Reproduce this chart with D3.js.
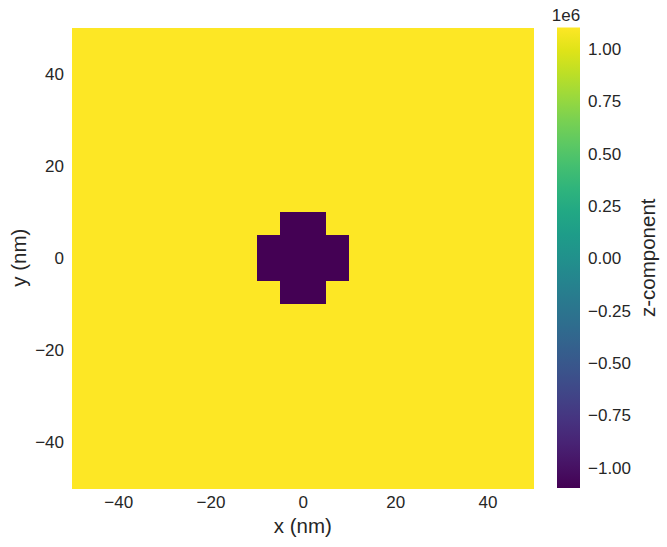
<!DOCTYPE html>
<html><head><meta charset="utf-8">
<script src="https://cdn.jsdelivr.net/npm/d3@7"></script>
<style>body{margin:0;background:#fff}svg{display:block}text{font-family:"Liberation Sans",Arial,sans-serif;fill:#262626}</style>
</head><body><svg id="c" width="667" height="547"></svg>
<script>
// Data
const Ms = 1.1e6;
const xEdges = [-50, 50];
const yEdges = [-50, 50];
const cellSize = 5;
// rows from top (y=50) to bottom (y=-50), 20x20 cells, sign of mz
const mzRows = [
 [1,1,1,1,1,1,1,1,1,1,1,1,1,1,1,1,1,1,1,1],
 [1,1,1,1,1,1,1,1,1,1,1,1,1,1,1,1,1,1,1,1],
 [1,1,1,1,1,1,1,1,1,1,1,1,1,1,1,1,1,1,1,1],
 [1,1,1,1,1,1,1,1,1,1,1,1,1,1,1,1,1,1,1,1],
 [1,1,1,1,1,1,1,1,1,1,1,1,1,1,1,1,1,1,1,1],
 [1,1,1,1,1,1,1,1,1,1,1,1,1,1,1,1,1,1,1,1],
 [1,1,1,1,1,1,1,1,1,1,1,1,1,1,1,1,1,1,1,1],
 [1,1,1,1,1,1,1,1,1,1,1,1,1,1,1,1,1,1,1,1],
 [1,1,1,1,1,1,1,1,1,-1,-1,1,1,1,1,1,1,1,1,1],
 [1,1,1,1,1,1,1,1,-1,-1,-1,-1,1,1,1,1,1,1,1,1],
 [1,1,1,1,1,1,1,1,-1,-1,-1,-1,1,1,1,1,1,1,1,1],
 [1,1,1,1,1,1,1,1,1,-1,-1,1,1,1,1,1,1,1,1,1],
 [1,1,1,1,1,1,1,1,1,1,1,1,1,1,1,1,1,1,1,1],
 [1,1,1,1,1,1,1,1,1,1,1,1,1,1,1,1,1,1,1,1],
 [1,1,1,1,1,1,1,1,1,1,1,1,1,1,1,1,1,1,1,1],
 [1,1,1,1,1,1,1,1,1,1,1,1,1,1,1,1,1,1,1,1],
 [1,1,1,1,1,1,1,1,1,1,1,1,1,1,1,1,1,1,1,1],
 [1,1,1,1,1,1,1,1,1,1,1,1,1,1,1,1,1,1,1,1],
 [1,1,1,1,1,1,1,1,1,1,1,1,1,1,1,1,1,1,1,1],
 [1,1,1,1,1,1,1,1,1,1,1,1,1,1,1,1,1,1,1,1]
];
const axisTicks = [-40, -20, 0, 20, 40];
const cbarTicks = [-1.0, -0.75, -0.5, -0.25, 0, 0.25, 0.5, 0.75, 1.0];
const cbarDomain = [-1.1e6, 1.1e6];

const svg = d3.select("#c");
const L = 72, R = 533.7, T = 27.5, B = 488;
const x = d3.scaleLinear().domain(xEdges).range([L, R]);
const y = d3.scaleLinear().domain(yEdges).range([B, T]);
const color = d3.scaleSequential(d3.interpolateViridis).domain(cbarDomain);
const fmtMinus = s => String(s).replace("-", "\u2212");

const cells = [];
mzRows.forEach((row, i) => row.forEach((v, j) => {
  cells.push({x0: xEdges[0] + j*cellSize, y1: yEdges[1] - i*cellSize, v: v*Ms});
}));
svg.append("g").selectAll("rect").data(cells).join("rect")
  .attr("x", d => x(d.x0)).attr("y", d => y(d.y1))
  .attr("width", d => x(d.x0 + cellSize) - x(d.x0) + 0.5)
  .attr("height", d => y(d.y1 - cellSize) - y(d.y1) + 0.5)
  .attr("fill", d => color(d.v)).attr("shape-rendering", "crispEdges");

// axes
const xa = svg.append("g").attr("transform", `translate(0,${B})`)
  .call(d3.axisBottom(x).tickValues(axisTicks).tickSize(0).tickPadding(6).tickFormat(d => fmtMinus(d)));
const ya = svg.append("g").attr("transform", `translate(${L},0)`)
  .call(d3.axisLeft(y).tickValues(axisTicks).tickSize(0).tickPadding(8).tickFormat(d => fmtMinus(d)));
[xa, ya].forEach(a => { a.select(".domain").remove(); a.selectAll("text").style("font-size", "17px").attr("fill", "#262626"); });
xa.selectAll("text").attr("dy", "0.8em");
ya.selectAll("text").attr("dy", "0.35em");

svg.append("text").attr("x", (L+R)/2).attr("y", 533).attr("text-anchor", "middle")
  .style("font-size", "20.5px").text("x (nm)");
svg.append("text").attr("transform", `translate(26,${(T+B)/2}) rotate(-90)`).attr("text-anchor", "middle")
  .style("font-size", "20.5px").text("y (nm)");

// colorbar
const cx0 = 557, cx1 = 580;
const defs = svg.append("defs");
const grad = defs.append("linearGradient").attr("id", "vg").attr("x1", 0).attr("y1", 1).attr("x2", 0).attr("y2", 0);
d3.range(0, 1.0001, 0.05).forEach(t => grad.append("stop").attr("offset", t).attr("stop-color", d3.interpolateViridis(t)));
svg.append("rect").attr("x", cx0).attr("y", T).attr("width", cx1 - cx0).attr("height", B - T).attr("fill", "url(#vg)");
const ca = svg.append("g").attr("transform", `translate(${cx1},0)`)
  .call(d3.axisRight(d3.scaleLinear().domain([cbarDomain[0]/1e6, cbarDomain[1]/1e6]).range([B, T]))
    .tickValues(cbarTicks).tickSize(0).tickPadding(8).tickFormat(d => fmtMinus(d3.format(".2f")(d))));
ca.select(".domain").remove();
ca.selectAll("text").style("font-size", "17px").attr("fill", "#262626").attr("dy", "0.35em");
svg.append("text").attr("x", 566).attr("y", 21).attr("text-anchor", "middle").style("font-size", "17px").text("1e6");
svg.append("text").attr("transform", `translate(655,${(T+B)/2}) rotate(-90)`).attr("text-anchor", "middle")
  .style("font-size", "20.5px").text("z-component");
</script></body></html>
